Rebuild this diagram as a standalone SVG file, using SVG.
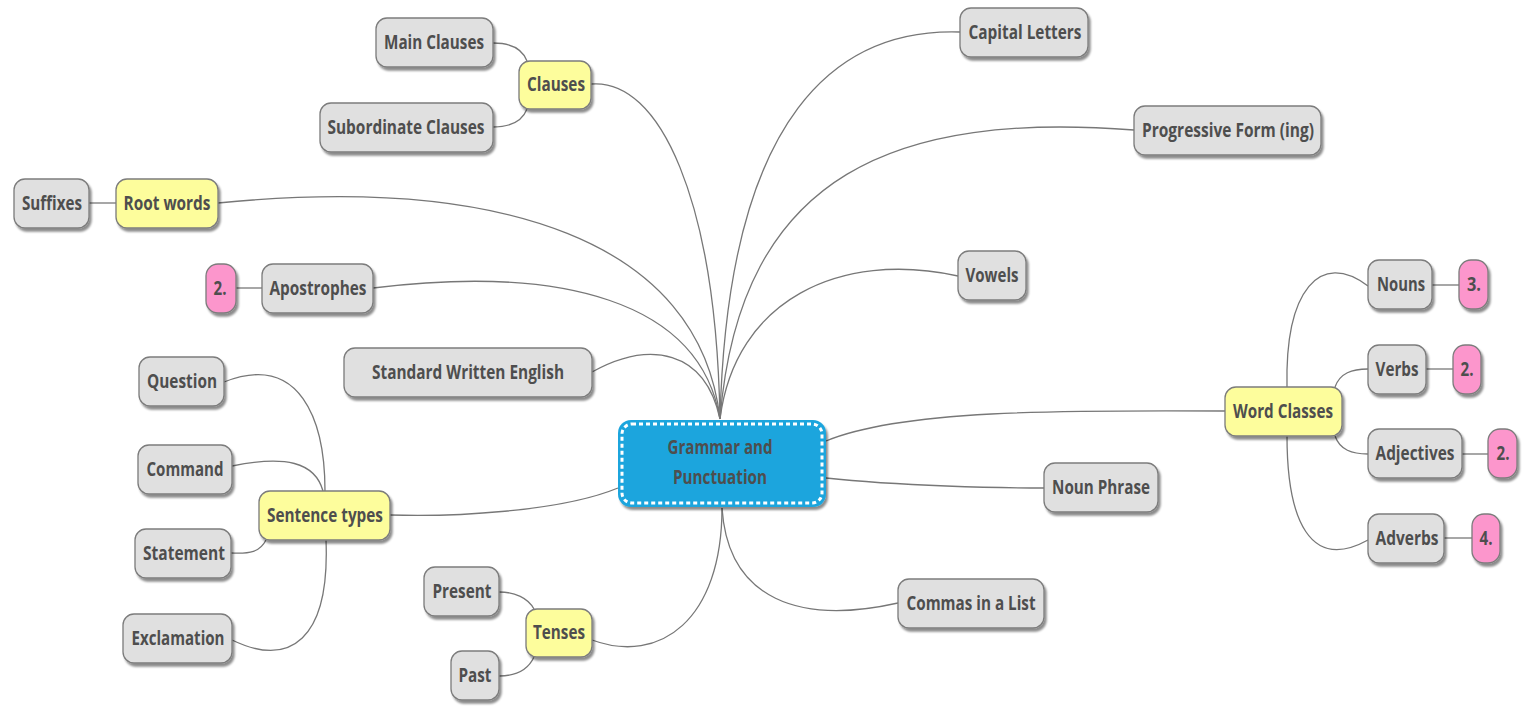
<svg xmlns="http://www.w3.org/2000/svg" width="1525" height="707" viewBox="0 0 1525 707">
<defs>
<filter id="sh" x="-20%" y="-20%" width="150%" height="160%">
<feDropShadow dx="2" dy="3" stdDeviation="1.3" flood-color="#000" flood-opacity="0.45"/>
</filter>
<style>
.n rect{fill:#e0e0e0;stroke:#7c7c7c;stroke-width:1.3;filter:url(#sh)}
.y rect{fill:#fdfd9c;stroke:#7c7c7c;stroke-width:1.3;filter:url(#sh)}
.p rect{fill:#fc96cc;stroke:#7c7c7c;stroke-width:1.3;filter:url(#sh)}
text{font-family:"Open Sans","DejaVu Sans",sans-serif;font-weight:700;font-size:19px;fill:#4e4e4e;text-anchor:middle}
#connectors path{fill:none;stroke:#777;stroke-width:1.3}
</style>
</defs>
<rect width="1525" height="707" fill="#fff"/>
<g id="connectors">
<path d="M720,419 C716,200 660,78 591,84"/>
<path d="M720,419 C728,110 840,28 960,32"/>
<path d="M720,419 C740,170 900,112 1134,130"/>
<path d="M720,419 C700,240 500,175 218,203"/>
<path d="M720,419 C700,300 560,265 373,288"/>
<path d="M720,419 C735,300 840,250 958,276"/>
<path d="M720,419 C705,350 650,340 592,372"/>
<path d="M826,441 C900,410 1060,410 1225,411"/>
<path d="M826,478 C900,486 1000,488 1044,488"/>
<path d="M618,488 C560,512 450,517 390,515"/>
<path d="M722,508 C722,620 660,665 592,640"/>
<path d="M722,508 C728,600 800,625 898,603"/>
<path d="M527,61 C522,48 510,43 493,43"/>
<path d="M527,109 C522,122 510,127 493,127"/>
<path d="M89,203 L116,203"/>
<path d="M236,288 L262,288"/>
<path d="M325,491 C325,420 300,352 224,382"/>
<path d="M323,491 C315,462 285,455 232,466"/>
<path d="M266,540 C260,552 250,554 231,553"/>
<path d="M326,540 C330,640 290,668 232,640"/>
<path d="M534,609 C528,598 515,592 499,592"/>
<path d="M534,657 C528,670 515,676 499,676"/>
<path d="M1287,387 C1285,290 1320,250 1368,286"/>
<path d="M1335,387 C1340,373 1352,369 1368,369"/>
<path d="M1335,436 C1340,450 1352,454 1368,454"/>
<path d="M1287,436 C1287,520 1310,572 1368,540"/>
<path d="M1432,285 L1459,285"/>
<path d="M1426,369 L1453,369"/>
<path d="M1462,454 L1488,454"/>
<path d="M1444,538 L1472,538"/>
</g>
<g id="center">
<rect x="618" y="420" width="208" height="87" rx="13" fill="#1ca5dd" filter="url(#sh)"/>
<rect x="622" y="424" width="200" height="79" rx="10" fill="none" stroke="#fff" stroke-width="3" stroke-dasharray="4 3"/>
<text x="720" y="454" textLength="105" lengthAdjust="spacingAndGlyphs">Grammar and</text>
<text x="720" y="484" textLength="94" lengthAdjust="spacingAndGlyphs">Punctuation</text>
</g>
<g id="main-clauses" class="n"><rect x="376" y="18" width="117" height="49" rx="11"/><text x="434" y="49" textLength="100" lengthAdjust="spacingAndGlyphs">Main Clauses</text></g>
<g id="clauses" class="y"><rect x="519" y="61" width="72" height="48" rx="11"/><text x="556" y="91" textLength="58" lengthAdjust="spacingAndGlyphs">Clauses</text></g>
<g id="subordinate-clauses" class="n"><rect x="320" y="103" width="173" height="49" rx="11"/><text x="406" y="134" textLength="157" lengthAdjust="spacingAndGlyphs">Subordinate Clauses</text></g>
<g id="capital-letters" class="n"><rect x="960" y="8" width="128" height="49" rx="11"/><text x="1025" y="39" textLength="113" lengthAdjust="spacingAndGlyphs">Capital Letters</text></g>
<g id="progressive-form" class="n"><rect x="1134" y="106" width="187" height="49" rx="11"/><text x="1228" y="137" textLength="172" lengthAdjust="spacingAndGlyphs">Progressive Form (ing)</text></g>
<g id="suffixes" class="n"><rect x="14" y="179" width="75" height="49" rx="11"/><text x="52" y="210" textLength="60" lengthAdjust="spacingAndGlyphs">Suffixes</text></g>
<g id="root-words" class="y"><rect x="116" y="179" width="102" height="49" rx="11"/><text x="167" y="210" textLength="87" lengthAdjust="spacingAndGlyphs">Root words</text></g>
<g id="apostrophes-2" class="p"><rect x="206" y="264" width="30" height="49" rx="12"/><text x="220" y="295" textLength="13" lengthAdjust="spacingAndGlyphs">2.</text></g>
<g id="apostrophes" class="n"><rect x="262" y="264" width="111" height="49" rx="11"/><text x="318" y="295" textLength="97" lengthAdjust="spacingAndGlyphs">Apostrophes</text></g>
<g id="vowels" class="n"><rect x="958" y="251" width="68" height="49" rx="11"/><text x="992" y="282" textLength="53" lengthAdjust="spacingAndGlyphs">Vowels</text></g>
<g id="standard-written-english" class="n"><rect x="344" y="348" width="248" height="49" rx="11"/><text x="468" y="379" textLength="192" lengthAdjust="spacingAndGlyphs">Standard Written English</text></g>
<g id="question" class="n"><rect x="139" y="357" width="85" height="49" rx="11"/><text x="182" y="388" textLength="70" lengthAdjust="spacingAndGlyphs">Question</text></g>
<g id="command" class="n"><rect x="138" y="445" width="94" height="49" rx="11"/><text x="185" y="476" textLength="77" lengthAdjust="spacingAndGlyphs">Command</text></g>
<g id="sentence-types" class="y"><rect x="259" y="491" width="131" height="49" rx="11"/><text x="325" y="522" textLength="116" lengthAdjust="spacingAndGlyphs">Sentence types</text></g>
<g id="statement" class="n"><rect x="135" y="529" width="96" height="49" rx="11"/><text x="184" y="560" textLength="82" lengthAdjust="spacingAndGlyphs">Statement</text></g>
<g id="exclamation" class="n"><rect x="123" y="614" width="109" height="49" rx="11"/><text x="178" y="645" textLength="93" lengthAdjust="spacingAndGlyphs">Exclamation</text></g>
<g id="present" class="n"><rect x="424" y="567" width="75" height="49" rx="11"/><text x="462" y="598" textLength="59" lengthAdjust="spacingAndGlyphs">Present</text></g>
<g id="tenses" class="y"><rect x="526" y="609" width="66" height="48" rx="11"/><text x="559" y="639" textLength="52" lengthAdjust="spacingAndGlyphs">Tenses</text></g>
<g id="past" class="n"><rect x="451" y="651" width="48" height="49" rx="11"/><text x="475" y="682" textLength="33" lengthAdjust="spacingAndGlyphs">Past</text></g>
<g id="commas-in-a-list" class="n"><rect x="898" y="579" width="146" height="49" rx="11"/><text x="971" y="610" textLength="129" lengthAdjust="spacingAndGlyphs">Commas in a List</text></g>
<g id="noun-phrase" class="n"><rect x="1044" y="463" width="114" height="49" rx="11"/><text x="1101" y="494" textLength="98" lengthAdjust="spacingAndGlyphs">Noun Phrase</text></g>
<g id="word-classes" class="y"><rect x="1225" y="387" width="117" height="49" rx="11"/><text x="1283" y="418" textLength="100" lengthAdjust="spacingAndGlyphs">Word Classes</text></g>
<g id="nouns" class="n"><rect x="1368" y="260" width="64" height="49" rx="11"/><text x="1401" y="291" textLength="48" lengthAdjust="spacingAndGlyphs">Nouns</text></g>
<g id="nouns-3" class="p"><rect x="1459" y="260" width="29" height="49" rx="12"/><text x="1474" y="291" textLength="14" lengthAdjust="spacingAndGlyphs">3.</text></g>
<g id="verbs" class="n"><rect x="1368" y="345" width="58" height="49" rx="11"/><text x="1397" y="376" textLength="43" lengthAdjust="spacingAndGlyphs">Verbs</text></g>
<g id="verbs-2" class="p"><rect x="1453" y="345" width="28" height="49" rx="12"/><text x="1467" y="376" textLength="13" lengthAdjust="spacingAndGlyphs">2.</text></g>
<g id="adjectives" class="n"><rect x="1368" y="429" width="94" height="49" rx="11"/><text x="1415" y="460" textLength="79" lengthAdjust="spacingAndGlyphs">Adjectives</text></g>
<g id="adjectives-2" class="p"><rect x="1488" y="429" width="29" height="49" rx="12"/><text x="1503" y="460" textLength="13" lengthAdjust="spacingAndGlyphs">2.</text></g>
<g id="adverbs" class="n"><rect x="1368" y="514" width="76" height="49" rx="11"/><text x="1407" y="545" textLength="63" lengthAdjust="spacingAndGlyphs">Adverbs</text></g>
<g id="adverbs-4" class="p"><rect x="1472" y="514" width="28" height="49" rx="12"/><text x="1486" y="545" textLength="13" lengthAdjust="spacingAndGlyphs">4.</text></g>
</svg>
